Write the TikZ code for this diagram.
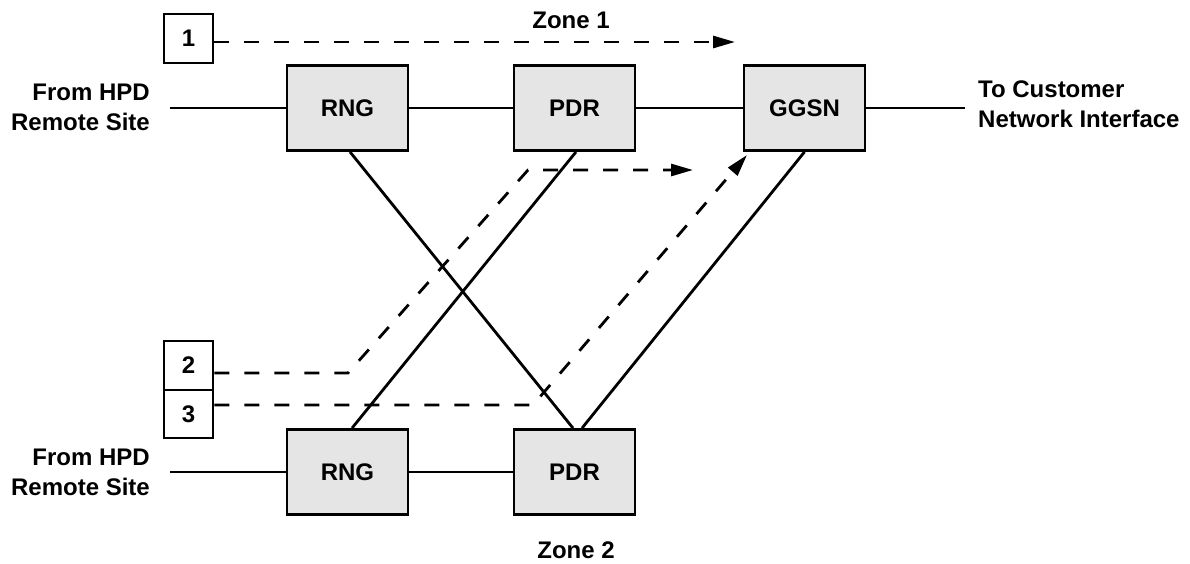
\documentclass[tikz,border=0pt]{standalone}
\usepackage{fontspec}
\setmainfont{Liberation Sans}
\usetikzlibrary{arrows.meta}
\tikzset{
  unit/.style={draw, line width=2.8pt, fill=black!10, minimum width=121pt, minimum height=85pt,
    inner sep=0pt, font=\bfseries\fontsize{24}{29}\selectfont},
  numbox/.style={draw, line width=2.8pt, fill=white, minimum width=49pt, minimum height=49pt,
    inner sep=0pt, font=\bfseries\fontsize{24}{29}\selectfont},
  lbl/.style={inner sep=0pt, font=\bfseries\fontsize{24}{30}\selectfont},
  link/.style={line width=2.8pt},
  flow/.style={line width=2.8pt, dash pattern=on 15pt off 15pt, -{Triangle[length=22pt,width=12pt]}}
}
\begin{document}
\begin{tikzpicture}[x=1pt,y=-1pt]
\useasboundingbox (0,0) rectangle (1190,563);

% network elements
\node[unit] (rng1) at (347.5,108) {RNG};
\node[unit] (pdr1) at (574.5,108) {PDR};
\node[unit] (ggsn) at (804.5,108) {GGSN};
\node[unit] (rng2) at (347.5,472) {RNG};
\node[unit] (pdr2) at (574.5,472) {PDR};

% path number boxes
\node[numbox] (n1) at (188.5,38.5) {1};
\node[numbox, minimum height=49pt] (n2) at (188.5,365.5) {2};
\node[numbox, minimum height=48pt] (n3) at (188.5,414) {3};

% side and zone labels
\node[lbl, anchor=east, align=right] (src1) at (150,107) {From HPD\\Remote Site};
\node[lbl, anchor=east, align=right] (src2) at (150,472) {From HPD\\Remote Site};
\node[lbl, anchor=west, align=left] (dst) at (978,104) {To Customer\\Network Interface};
\node[lbl] (z1) at (571,20) {Zone 1};
\node[lbl] (z2) at (576,550) {Zone 2};

% free ends and bends
\coordinate (in1) at (170,108);
\coordinate (in2) at (170,472);
\coordinate (out) at (965,108);
\coordinate (t1) at (735,42);
\coordinate (b2a) at (348,373);
\coordinate (b2b) at (528,170);
\coordinate (t2) at (693,170);
\coordinate (b3a) at (533,405);
\coordinate (t3) at (747,155);

% links
\draw[link] (in1) -- (rng1.west);
\draw[link] (rng1.east) -- (pdr1.west);
\draw[link] (pdr1.east) -- (ggsn.west);
\draw[link] (ggsn.east) -- (out);
\draw[link] (in2) -- (rng2.west);
\draw[link] (rng2.east) -- (pdr2.west);
\draw[link] ([xshift=2.5pt]rng1.south) -- ([xshift=-1.5pt]pdr2.north);
\draw[link] ([xshift=1.5pt]pdr1.south) -- ([xshift=4.5pt]rng2.north);
\draw[link] (ggsn.south) -- ([xshift=7.5pt]pdr2.north);

% traffic paths
\draw[flow] (n1.east |- t1) -- (t1);
\draw[flow] (n2.east |- b2a) -- (b2a) -- (b2b) -- (t2);
\draw[flow] (n3.east |- b3a) -- (b3a) -- (t3);
\end{tikzpicture}
\end{document}
